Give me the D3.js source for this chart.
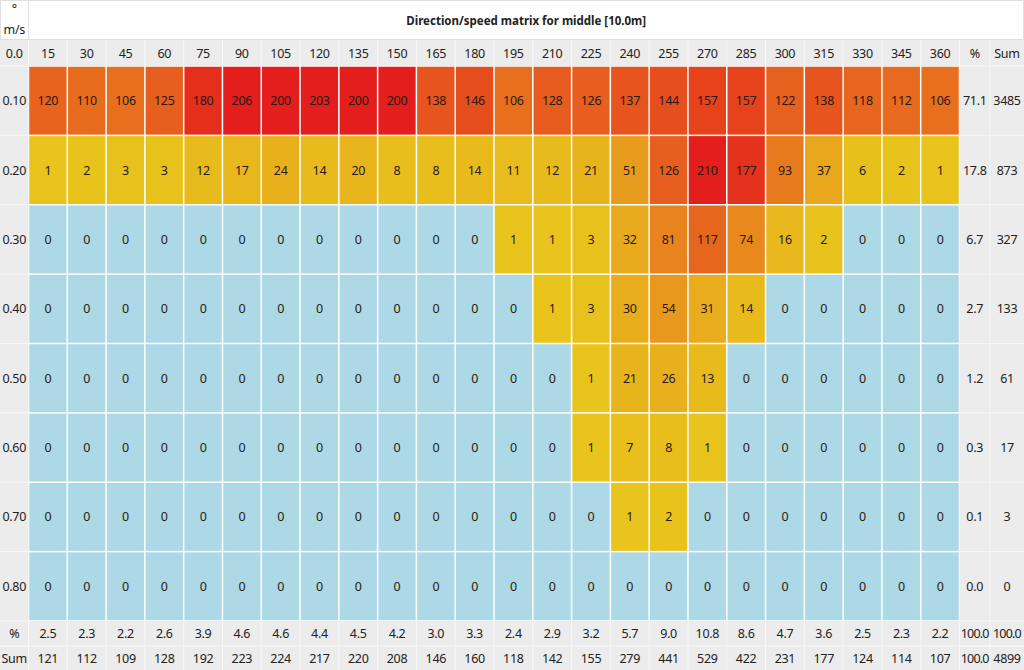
<!DOCTYPE html>
<html><head><meta charset="utf-8">
<script src="https://cdn.jsdelivr.net/npm/d3@7"></script>
<style>
html,body{margin:0;padding:0;background:#fff;}
svg{display:block;font-family:"Noto Sans","Open Sans",sans-serif;}
</style></head>
<body><svg id="c" width="1024" height="670"></svg>
<script>
const title = "Direction/speed matrix for middle [10.0m]";
const directions = [15,30,45,60,75,90,105,120,135,150,165,180,195,210,225,240,255,270,285,300,315,330,345,360];
const speeds = ["0.10","0.20","0.30","0.40","0.50","0.60","0.70","0.80"];
const row010 = [120,110,106,125,180,206,200,203,200,200,138,146,106,128,126,137,144,157,157,122,138,118,112,106];
const row020 = [1,2,3,3,12,17,24,14,20,8,8,14,11,12,21,51,126,210,177,93,37,6,2,1];
const row030 = [0,0,0,0,0,0,0,0,0,0,0,0,1,1,3,32,81,117,74,16,2,0,0,0];
const row040 = [0,0,0,0,0,0,0,0,0,0,0,0,0,1,3,30,54,31,14,0,0,0,0,0];
const row050 = [0,0,0,0,0,0,0,0,0,0,0,0,0,0,1,21,26,13,0,0,0,0,0,0];
const row060 = [0,0,0,0,0,0,0,0,0,0,0,0,0,0,1,7,8,1,0,0,0,0,0,0];
const row070 = [0,0,0,0,0,0,0,0,0,0,0,0,0,0,0,1,2,0,0,0,0,0,0,0];
const row080 = [0,0,0,0,0,0,0,0,0,0,0,0,0,0,0,0,0,0,0,0,0,0,0,0];
const rowPct = ["71.1","17.8","6.7","2.7","1.2","0.3","0.1","0.0"];
const rowSum = [3485,873,327,133,61,17,3,0];
const colPct = ["2.5","2.3","2.2","2.6","3.9","4.6","4.6","4.4","4.5","4.2","3.0","3.3","2.4","2.9","3.2","5.7","9.0","10.8","8.6","4.7","3.6","2.5","2.3","2.2"];
const colSum = [121,112,109,128,192,223,224,217,220,208,146,160,118,142,155,279,441,529,422,231,177,124,114,107];
const pctCorner = ["100.0","100.0"];
const sumCorner = ["100.0","4899"];
const rows = [row010,row020,row030,row040,row050,row060,row070,row080];

const svg = d3.select("#c");
const W = 1024, H = 670;
const leftW = 28.5, gridR = 959.5, pctR = 990;
const titleH = 40, headB = 66, gridB = 621, pctB = 646;

const x = d3.scaleBand().domain(directions).range([leftW, gridR]);
const y = d3.scaleBand().domain(speeds).range([headB, gridB]);
const extraX = d3.scaleOrdinal().domain(["%","Sum"]).range([gridR, pctR]);
const extraW = {"%": pctR - gridR, "Sum": W - pctR};

const color = d3.scaleLinear().domain([1, 105, 200]).range(["#e8c41c","#e8701e","#e41e1c"]).clamp(true);
const zeroColor = "#add8e6";
const gray = "#ececec";
const txt = "#222";

svg.append("rect").attr("width",W).attr("height",H).attr("fill","#fff");
svg.append("rect").attr("x",0).attr("y",titleH).attr("width",W).attr("height",headB-titleH).attr("fill",gray);
svg.append("rect").attr("x",0).attr("y",headB).attr("width",leftW).attr("height",H-headB).attr("fill",gray);
svg.append("rect").attr("x",gridR).attr("y",headB).attr("width",W-gridR).attr("height",H-headB).attr("fill",gray);
svg.append("rect").attr("x",0).attr("y",gridB).attr("width",W).attr("height",H-gridB).attr("fill",gray);

svg.append("rect").attr("x",0.5).attr("y",0.5).attr("width",W-1).attr("height",titleH-1).attr("fill","none").attr("stroke","#e0e0e0");
svg.append("line").attr("x1",leftW).attr("x2",leftW).attr("y1",0).attr("y2",titleH).attr("stroke","#e0e0e0");

const gl = svg.append("g").attr("stroke","#f8f8f8").attr("stroke-width",1);
const vx = [leftW, ...directions.map(d => x(d)+x.bandwidth()), pctR];
vx.forEach(v => {
  gl.append("line").attr("x1",v).attr("x2",v).attr("y1",titleH).attr("y2",headB);
  gl.append("line").attr("x1",v).attr("x2",v).attr("y1",gridB).attr("y2",H);
});
const hy = [headB, ...speeds.map(s => y(s)+y.bandwidth()), pctB];
hy.forEach(v => {
  gl.append("line").attr("x1",0).attr("x2",leftW).attr("y1",v).attr("y2",v);
  gl.append("line").attr("x1",gridR).attr("x2",W).attr("y1",v).attr("y2",v);
});
gl.append("line").attr("x1",pctR).attr("x2",pctR).attr("y1",headB).attr("y2",gridB);
gl.append("line").attr("x1",0).attr("x2",W).attr("y1",pctB).attr("y2",pctB);

const cells = [];
rows.forEach((r,i) => r.forEach((v,j) => cells.push({s:speeds[i], d:directions[j], v})));
svg.append("g").selectAll("rect").data(cells).join("rect")
  .attr("x", c => x(c.d)+0.75).attr("y", c => y(c.s)+0.75)
  .attr("width", x.bandwidth()-1.5).attr("height", y.bandwidth()-1.5)
  .attr("fill", c => c.v === 0 ? zeroColor : color(c.v));

const T = svg.append("g").attr("font-size",12.5).attr("letter-spacing",-0.3).attr("fill",txt).attr("text-anchor","middle").attr("dominant-baseline","central");
T.selectAll("text.cell").data(cells).join("text").attr("class","cell")
  .attr("x", c => x(c.d)+x.bandwidth()/2).attr("y", c => y(c.s)+y.bandwidth()/2)
  .attr("fill", "#2a1a10").text(c => c.v);

T.append("text").attr("x",(leftW+W)/2).attr("y",20).attr("font-weight","bold").attr("font-size",11.5).attr("letter-spacing",0).text(title);
T.append("text").attr("x",leftW/2).attr("y",8).text("°");
T.append("text").attr("x",leftW/2).attr("y",29).text("m/s");

const headMid = (titleH+headB)/2;
T.append("text").attr("x",leftW/2).attr("y",headMid).text("0.0");
T.selectAll("text.dh").data(directions).join("text").attr("class","dh")
  .attr("x", d => x(d)+x.bandwidth()/2).attr("y", headMid).text(d => d);
["%","Sum"].forEach(k => T.append("text").attr("x", extraX(k)+extraW[k]/2).attr("y", headMid).text(k));

T.selectAll("text.sl").data(speeds).join("text").attr("class","sl")
  .attr("x", leftW/2).attr("y", s => y(s)+y.bandwidth()/2).text(s => s);
T.selectAll("text.rp").data(rowPct).join("text").attr("class","rp")
  .attr("x", extraX("%")+extraW["%"]/2).attr("y", (v,i) => y(speeds[i])+y.bandwidth()/2).text(v => v);
T.selectAll("text.rs").data(rowSum).join("text").attr("class","rs")
  .attr("x", extraX("Sum")+extraW["Sum"]/2).attr("y", (v,i) => y(speeds[i])+y.bandwidth()/2).text(v => v);

const pMid = (gridB+pctB)/2, sMid = (pctB+H)/2;
T.append("text").attr("x",leftW/2).attr("y",pMid).text("%");
T.append("text").attr("x",leftW/2).attr("y",sMid).text("Sum");
T.selectAll("text.cp").data(colPct).join("text").attr("class","cp")
  .attr("x", (v,i) => x(directions[i])+x.bandwidth()/2).attr("y", pMid).text(v => v);
T.selectAll("text.cs").data(colSum).join("text").attr("class","cs")
  .attr("x", (v,i) => x(directions[i])+x.bandwidth()/2).attr("y", sMid).text(v => v);
["%","Sum"].forEach((k,i) => {
  T.append("text").attr("x", extraX(k)+extraW[k]/2).attr("y", pMid).attr("letter-spacing",-0.8).text(pctCorner[i]);
  T.append("text").attr("x", extraX(k)+extraW[k]/2).attr("y", sMid).attr("letter-spacing", i===0 ? -0.8 : -0.3).text(sumCorner[i]);
});
</script></body></html>
